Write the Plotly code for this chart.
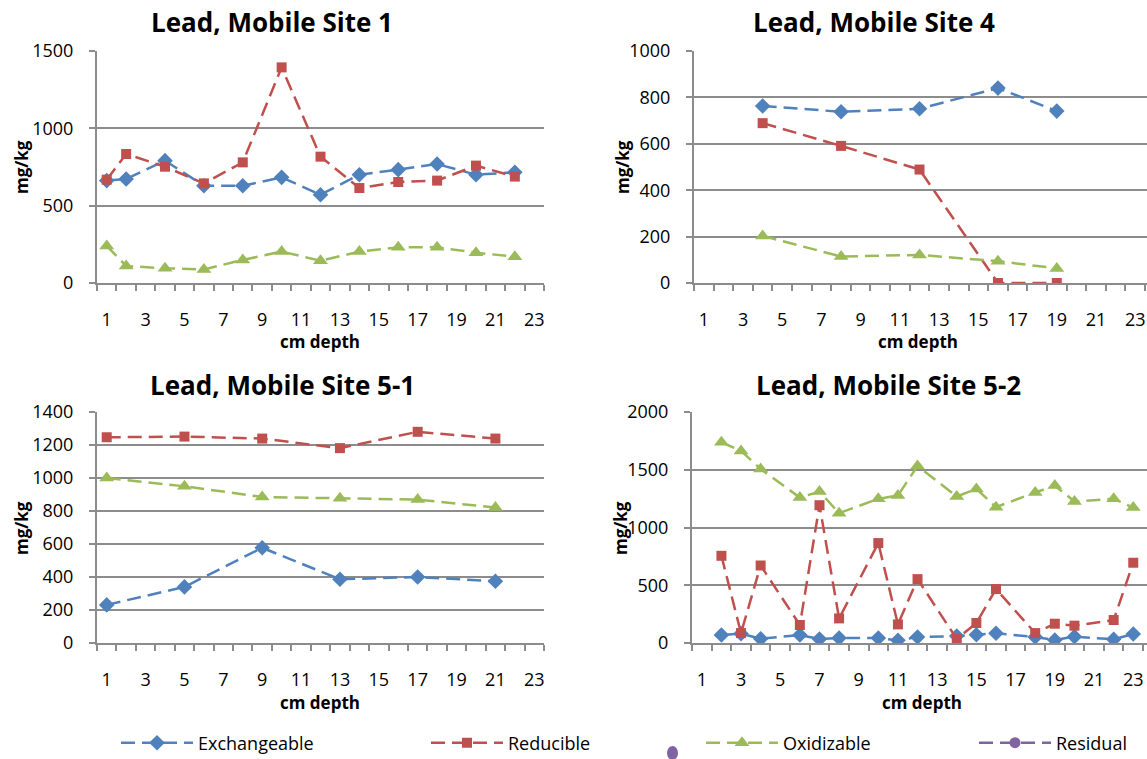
import plotly.graph_objects as go

W, H = 1147, 759

# ---------------- data ----------------
site1_depth = [1, 2, 4, 6, 8, 10, 12, 14, 16, 18, 20, 22]
site1_exch = [662, 672, 791, 629, 629, 683, 571, 700, 733, 769, 700, 716]
site1_red = [668, 834, 752, 644, 780, 1394, 817, 614, 653, 662, 759, 688]
site1_oxi = [240, 110, 95, 88, 149, 203, 144, 203, 231, 231, 196, 170]

site4_depth = [4, 8, 12, 16, 19]
site4_exch = [763, 738, 751, 840, 741]
site4_red = [689, 591, 489, 0, 0]
site4_oxi = [203, 114, 121, 94, 63]

site51_depth = [1, 5, 9, 13, 17, 21]
site51_exch = [231, 340, 577, 386, 400, 374]
site51_red = [1247, 1251, 1239, 1181, 1280, 1239]
site51_oxi = [1000, 950, 885, 877, 869, 821]

site52_depth = [2, 3, 4, 6, 7, 8, 10, 11, 12, 14, 15, 16, 18, 19, 20, 22, 23]
site52_exch = [69, 81, 37, 69, 35, 43, 43, 23, 52, 60, 72, 84, 52, 26, 55, 32, 78]
site52_red = [755, 86, 671, 156, 1193, 213, 865, 161, 553, 35, 173, 467, 86, 167, 150, 199, 695]
site52_oxi = [1738, 1663, 1507, 1259, 1311, 1124, 1248, 1277, 1533, 1268, 1334, 1176, 1303, 1363, 1225, 1248, 1173]

titles = ["Lead, Mobile Site 1", "Lead, Mobile Site 4", "Lead, Mobile Site 5-1", "Lead, Mobile Site 5-2"]
series_names = ["Exchangeable", "Reducible", "Oxidizable", "Residual"]
x_tick_labels = [str(v) for v in range(1, 24, 2)]
y_ranges = [(0, 1500, 500), (0, 1000, 200), (0, 1400, 200), (0, 2000, 500)]

# ---------------- styles ----------------
colors = ["#4F81BD", "#C0504D", "#9BBB59", "#8064A2"]
symbols = ["diamond", "square", "triangle-up", "circle"]
msizes = [12, 10, 13, 11]
FONT = "'Open Sans', Lato, sans-serif"
GRID = "#8c8c8c"
DASH = "14px,7px"

fig = go.Figure()

panels = [
    (site1_depth, [site1_exch, site1_red, site1_oxi]),
    (site4_depth, [site4_exch, site4_red, site4_oxi]),
    (site51_depth, [site51_exch, site51_red, site51_oxi]),
    (site52_depth, [site52_exch, site52_red, site52_oxi]),
]

legend_ids = ["legend", "legend2", "legend3", "legend4"]

for p, (xs, ys_list) in enumerate(panels):
    ax = "" if p == 0 else str(p + 1)
    for s, ys in enumerate(ys_list):
        fig.add_trace(go.Scatter(
            x=xs, y=ys, name=series_names[s], mode="lines+markers",
            xaxis="x" + ax, yaxis="y" + ax,
            line=dict(color=colors[s], width=2.5, dash=DASH),
            marker=dict(symbol=symbols[s], size=msizes[s], color=colors[s]),
            showlegend=(p == 0), legend=legend_ids[s],
        ))

# Residual: no values plotted, legend entry only
fig.add_trace(go.Scatter(
    x=[None], y=[None], name=series_names[3], mode="lines+markers",
    line=dict(color=colors[3], width=2.5, dash=DASH),
    marker=dict(symbol=symbols[3], size=msizes[3], color=colors[3]),
    showlegend=True, legend=legend_ids[3],
))

def px_x(v):
    return v / W

def px_y(v):
    return 1 - v / H

# plot-area positions (pixels): left, right, bottom, top, x-range max
areas = [
    (97, 544, 283, 51, 23.5),
    (694, 1147, 283, 51, 23.6),
    (97, 544, 643, 412, 23.5),
    (692, 1147, 643, 412, 23.7),
]

layout = dict(
    width=W, height=H,
    margin=dict(l=0, r=0, t=0, b=0, autoexpand=False),
    paper_bgcolor="white", plot_bgcolor="white",
    font=dict(family=FONT, size=18, color="black"),
)

for p, (x0, x1, yb, yt, xmax) in enumerate(areas):
    ax = "" if p == 0 else str(p + 1)
    lo, hi, step = y_ranges[p]
    layout["xaxis" + ax] = dict(
        domain=[px_x(x0), px_x(x1)], range=[0.5, xmax],
        anchor="y" + ax,
        tickmode="array", tickvals=list(range(1, 24, 2)), ticktext=x_tick_labels,
        ticks="outside", ticklen=19, tickcolor="rgba(0,0,0,0)",
        minor=dict(tickmode="linear", tick0=0.5, dtick=1, ticks="outside",
                   ticklen=6, tickcolor=GRID, tickwidth=1.5, showgrid=False),
        showline=True, linecolor=GRID, linewidth=2,
        showgrid=False, zeroline=False, fixedrange=True, automargin=False,
        tickfont=dict(size=18),
    )
    layout["yaxis" + ax] = dict(
        domain=[px_y(yb), px_y(yt)], range=[lo, hi],
        anchor="x" + ax,
        tickmode="linear", tick0=lo, dtick=step,
        ticks="outside", ticklen=6, tickcolor=GRID, tickwidth=1.5,
        ticklabelstandoff=12,
        showline=True, linecolor=GRID, linewidth=2,
        showgrid=True, gridcolor=GRID, gridwidth=1.5,
        zeroline=False, fixedrange=True, automargin=False,
        tickfont=dict(size=18),
    )

# legends
leg_x = [116, 426, 701, 974]
for i, lid in enumerate(legend_ids):
    layout[lid] = dict(
        x=px_x(leg_x[i]), y=px_y(743), xanchor="left", yanchor="middle",
        orientation="h", itemwidth=72, bgcolor="rgba(0,0,0,0)",
        font=dict(size=18, family=FONT, color="black"),
    )

fig.update_layout(**layout)

# text annotations
title_pos = [(272, 22), (874, 22), (282, 385), (888, 385)]
ylab_pos = [(21, 167), (622, 167), (21, 528), (620, 528)]
xlab_pos = [(320, 341), (918, 341), (320, 702), (922, 702)]
anns = []
for p in range(4):
    anns.append(dict(text="<b>%s</b>" % titles[p], x=px_x(title_pos[p][0]), y=px_y(title_pos[p][1]),
                     xref="paper", yref="paper", showarrow=False, xanchor="center", yanchor="middle",
                     font=dict(size=26, family=FONT, color="black")))
    anns.append(dict(text="<b>mg/kg</b>", x=px_x(ylab_pos[p][0]), y=px_y(ylab_pos[p][1]),
                     xref="paper", yref="paper", showarrow=False, xanchor="center", yanchor="middle",
                     textangle=-90, font=dict(size=17, family=FONT, color="black")))
    anns.append(dict(text="<b>cm depth</b>", x=px_x(xlab_pos[p][0]), y=px_y(xlab_pos[p][1]),
                     xref="paper", yref="paper", showarrow=False, xanchor="center", yanchor="middle",
                     font=dict(size=17, family=FONT, color="black")))
fig.update_layout(annotations=anns)

# small stray marker artifact visible near the legend in the reference
fig.add_shape(type="circle", xref="paper", yref="paper",
              x0=px_x(667), x1=px_x(678), y0=px_y(760), y1=px_y(746),
              fillcolor=colors[3], line=dict(width=0))

fig.write_html("out.html", config={"displayModeBar": False},
               post_script="document.body.style.margin='0';")
